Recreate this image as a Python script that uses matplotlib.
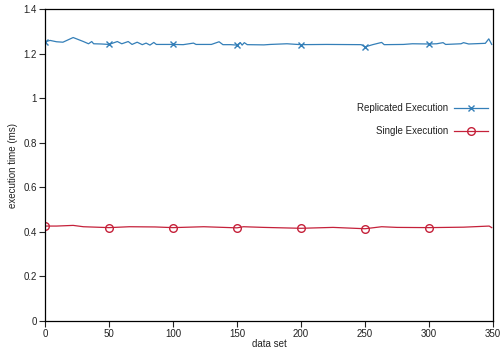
import matplotlib
matplotlib.use('Agg')
import matplotlib.pyplot as plt

plt.rcParams['font.family'] = ['Liberation Sans', 'DejaVu Sans']

# execution time per data set
rep_x = [0, 4, 9, 14, 22, 30, 34, 36.5, 38, 44, 50, 56.5, 60, 65, 68, 72, 76, 79, 82, 85, 87,
         93, 100, 108, 116, 118, 130, 136, 139, 145, 150, 152.6, 154, 155.7, 158, 171, 176,
         189, 200, 220, 247, 250, 256, 263, 265, 280, 287, 300, 306, 311, 313, 325, 327, 331,
         344, 346.7, 349]
rep_y = [1.253, 1.259, 1.253, 1.251, 1.272, 1.254, 1.244, 1.254, 1.244, 1.243, 1.241, 1.254,
         1.244, 1.254, 1.241, 1.251, 1.240, 1.247, 1.238, 1.250, 1.241,
         1.241, 1.241, 1.240, 1.247, 1.241, 1.241, 1.253, 1.240, 1.240, 1.238, 1.249, 1.238,
         1.249, 1.240, 1.239, 1.241,
         1.244, 1.240, 1.241, 1.240, 1.230, 1.240, 1.250, 1.240, 1.241, 1.244, 1.243, 1.244,
         1.249, 1.241, 1.244, 1.249, 1.243,
         1.246, 1.266, 1.241]

single_x = [0, 9, 22, 30, 50, 66, 86, 100, 124, 150, 155, 171, 200, 225, 250, 263, 275, 300,
            327, 347, 349]
single_y = [0.426, 0.426, 0.429, 0.423, 0.419, 0.423, 0.422, 0.419, 0.423, 0.418, 0.423, 0.420,
            0.416, 0.420, 0.414, 0.423, 0.420, 0.419, 0.421, 0.426, 0.419]

mark_at = [0, 50, 100, 150, 200, 250, 300]

fig = plt.figure(figsize=(5.04, 3.49), dpi=100)
ax = fig.add_axes([45/504, 28/349, 448/504, 312/349])

ax.plot(rep_x, rep_y, color='#347fb8', lw=0.9, marker='x', ms=5, mew=1.0,
        markevery=[rep_x.index(m) for m in mark_at], label='Replicated Execution')
ax.plot(single_x, single_y, color='#c5213a', lw=0.9, marker='o', ms=5.5, mew=1.0,
        mfc='none', markevery=[single_x.index(m) for m in mark_at], label='Single Execution')

ax.set_xlim(0, 350)
ax.set_ylim(0, 1.4)
ax.set_xticks(range(0, 351, 50))
ax.set_yticks([0, 0.2, 0.4, 0.6, 0.8, 1, 1.2, 1.4])
ax.set_yticklabels(['0', '0.2', '0.4', '0.6', '0.8', '1', '1.2', '1.4'])
ax.tick_params(labelsize=7, length=4, width=0.8, pad=2, colors='#222222')
ax.set_xlabel('data set', fontsize=7, labelpad=0, color='#222222')
ax.set_ylabel('execution time (ms)', fontsize=7, labelpad=4, color='#222222')
for s in ax.spines.values():
    s.set_linewidth(0.9)

ax.legend(loc='center right', bbox_to_anchor=(0.988, 0.645), frameon=False, fontsize=7,
          markerfirst=False, handlelength=3.5, labelspacing=1.3, borderaxespad=0, borderpad=0,
          handletextpad=0.6, labelcolor='#222222')

fig.savefig('out.png', dpi=100)
